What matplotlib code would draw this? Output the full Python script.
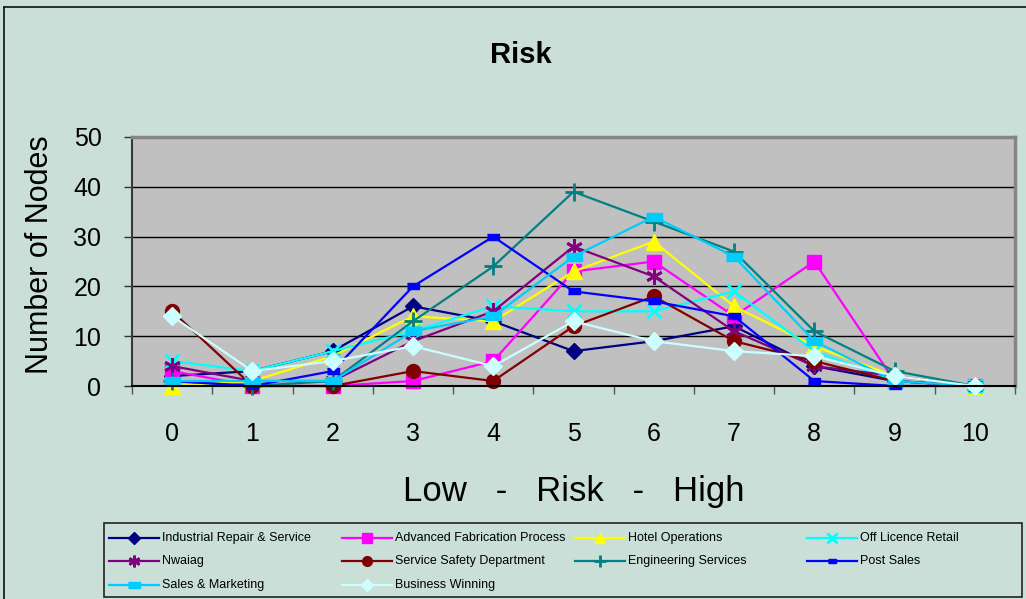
import matplotlib
matplotlib.use("Agg")
import matplotlib.pyplot as plt
import numpy as np
from matplotlib.lines import Line2D
from matplotlib.patches import Rectangle

plt.rcParams["font.family"] = ["Liberation Sans Narrow", "Liberation Sans", "DejaVu Sans"]

# ─── Data ─────────────────────────────────────────────────────────────────────
risk_levels = np.arange(0, 11)

industrial_repair = [2, 3, 7, 16, 13, 7, 9, 12, 4, 1, 0]
advanced_fabrication = [3, 0, 0, 1, 5, 23, 25, 14, 25, 1, 0]
hotel_operations = [0, 1, 6, 14, 13, 23, 29, 16, 8, 2, 0]
off_licence_retail = [5, 3, 7, 11, 16, 15, 15, 19, 7, 1, 0]
nwaiag = [4, 1, 1, 9, 15, 28, 22, 11, 4, 2, 0]
service_safety = [15, 0, 0, 3, 1, 12, 18, 9, 5, 1, 0]
engineering_services = [1, 0, 1, 13, 24, 39, 33, 27, 11, 3, 0]
post_sales = [1, 0, 3, 20, 30, 19, 17, 14, 1, 0, 0]
sales_marketing = [1, 1, 1, 11, 14, 26, 34, 26, 9, 1, 0]
business_winning = [14, 3, 5, 8, 4, 13, 9, 7, 6, 2, 0]

series_names = [
    "Industrial Repair & Service", "Advanced Fabrication Process",
    "Hotel Operations", "Off Licence Retail", "Nwaiag",
    "Service Safety Department", "Engineering Services", "Post Sales",
    "Sales & Marketing", "Business Winning",
]
series_values = [
    industrial_repair, advanced_fabrication, hotel_operations,
    off_licence_retail, nwaiag, service_safety, engineering_services,
    post_sales, sales_marketing, business_winning,
]

# ─── Styles (Excel palette) ───────────────────────────────────────────────────
dash_small = [(-1, -0.55), (1, -0.55), (1, 0.55), (-1, 0.55)]
dash_wide = [(-1, -0.5), (1, -0.5), (1, 0.5), (-1, 0.5)]
styles = [
    dict(color="#000080", marker="D", ms=8.5),
    dict(color="#FF00FF", marker="s", ms=10),
    dict(color="#FFFF00", marker="^", ms=11),
    dict(color="#00FFFF", marker="x", ms=10, mew=2),
    dict(color="#800080", marker=(6, 2, 0), ms=12, mew=2),
    dict(color="#800000", marker="o", ms=10),
    dict(color="#008080", marker="+", ms=13, mew=2),
    dict(color="#0000FF", marker=dash_small, ms=8),
    dict(color="#00CCFF", marker=dash_wide, ms=12),
    dict(color="#CCFFFF", marker="D", ms=9),
]

BG = "#C9DFD8"
W, H = 1026, 599

fig = plt.figure(figsize=(W / 100, H / 100), dpi=100)
fig.patch.set_facecolor(BG)

# chart area border (left and top edges inside the frame)
fig.add_artist(Line2D([4 / W, 4 / W], [0, 1 - 7 / H], color="#111111", lw=1.2))
fig.add_artist(Line2D([4 / W, 1], [1 - 7 / H, 1 - 7 / H], color="#111111", lw=1.2))

ax = fig.add_axes([132 / W, 1 - 386 / H, 883 / W, 249 / H])
ax.set_facecolor("#C0C0C0")

handles = []
for name, vals, st in zip(series_names, series_values, styles):
    ln, = ax.plot(risk_levels, vals, color=st["color"], lw=1.6,
                  marker=st["marker"], markersize=st["ms"],
                  markerfacecolor=st["color"], markeredgecolor=st["color"],
                  markeredgewidth=st.get("mew", 1), label=name, clip_on=False)
    handles.append(ln)

ax.set_xlim(-0.5, 10.5)
ax.set_ylim(0, 50)
ax.set_yticks(np.arange(0, 51, 10))
ax.set_xticks(risk_levels)
ax.set_xticks(np.arange(-0.5, 10.6, 1), minor=True)
ax.yaxis.grid(True, color="black", lw=1)
ax.set_axisbelow(True)

ax.tick_params(axis="y", direction="out", length=6, width=1, color="#333333",
               labelsize=18, pad=16)
ax.tick_params(axis="x", which="major", length=0, labelsize=18, pad=26)
ax.tick_params(axis="x", which="minor", direction="out", length=6, width=1,
               color="#555555")

for side in ("top", "right"):
    ax.spines[side].set_color("#858585")
    ax.spines[side].set_linewidth(2.5)
ax.spines["left"].set_color("#3a3a3a")
ax.spines["left"].set_linewidth(1.5)
ax.spines["bottom"].set_color("black")
ax.spines["bottom"].set_linewidth(1.5)

ax.set_ylabel("Number of Nodes", fontsize=22)
ax.yaxis.set_label_coords((55 - 132) / 883, 0.526)
ax.set_xlabel("Low   -   Risk   -   High", fontsize=25, va="center")
ax.xaxis.set_label_coords(0.5, (386 - 492) / 249)

fig.text(521 / W, 1 - 55 / H, "Risk", ha="center", va="center",
         fontsize=21, fontweight="bold")

# legend box, Excel row-major layout
fig.add_artist(Rectangle((104 / W, 1 - 597 / H), (1022 - 104) / W, (597 - 523) / H,
                         facecolor="none", edgecolor="#222222", lw=1.2))
col_x = [109, 342, 575, 807]
row_y = [538, 561, 585]
for i, (name, ln) in enumerate(zip(series_names, handles)):
    r, c = divmod(i, 4)
    x0, y0 = col_x[c], row_y[r]
    fig.add_artist(Line2D([x0 / W, (x0 + 50) / W], [1 - y0 / H] * 2,
                          color=ln.get_color(), lw=1.6))
    fig.add_artist(Line2D([(x0 + 25) / W], [1 - y0 / H], color=ln.get_color(),
                          marker=ln.get_marker(), markersize=ln.get_markersize() * 0.7,
                          markerfacecolor=ln.get_color(),
                          markeredgecolor=ln.get_color(),
                          markeredgewidth=ln.get_markeredgewidth()))
    fig.text((x0 + 53) / W, 1 - y0 / H, name, ha="left", va="center", fontsize=9)

fig.savefig("out.png", dpi=100, facecolor=BG)
